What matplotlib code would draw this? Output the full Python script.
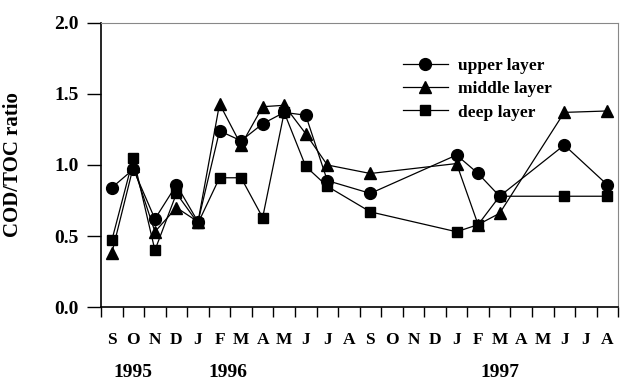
import numpy as np
import matplotlib
matplotlib.use('Agg')
import matplotlib.pyplot as plt

# month index: 0 = Sep 1995 ... 23 = Aug 1997
months = ['S', 'O', 'N', 'D', 'J', 'F', 'M', 'A', 'M', 'J', 'J', 'A',
          'S', 'O', 'N', 'D', 'J', 'F', 'M', 'A', 'M', 'J', 'J', 'A']
sample_month = [0, 1, 2, 3, 4, 5, 6, 7, 8, 9, 10, 12, 16, 17, 18, 21, 23]

upper = [0.84, 0.97, 0.62, 0.86, 0.60, 1.24, 1.17, 1.29, 1.37, 1.35, 0.89,
         0.80, 1.07, 0.94, 0.78, 1.14, 0.86]
middle = [0.38, 0.99, 0.53, 0.70, 0.60, 1.43, 1.14, 1.41, 1.42, 1.22, 1.00,
          0.94, 1.01, 0.58, 0.66, 1.37, 1.38]
deep = [0.47, 1.05, 0.40, 0.80, 0.59, 0.91, 0.91, 0.63, 1.37, 0.99, 0.85,
        0.67, 0.53, 0.58, 0.78, 0.78, 0.78]

years = ['1995', '1996', '1997']
year_pos = [1.5, 5.9, 18.5]

plt.rcParams['font.family'] = ['Liberation Serif', 'DejaVu Serif']
plt.rcParams['font.weight'] = 'bold'

fig = plt.figure(figsize=(6.2, 3.81), dpi=100)
ax = fig.add_axes([0.163, 0.194, 0.834, 0.746])

x = np.array(sample_month) + 0.5
ax.plot(x, upper, marker='o', markersize=8.5, color='black', linewidth=0.9,
        label='upper layer')
ax.plot(x, middle, marker='^', markersize=8.5, color='black', linewidth=0.9,
        label='middle layer')
ax.plot(x, deep, marker='s', markersize=7.5, color='black', linewidth=0.9,
        label='deep layer')

ax.set_xlim(0, 24)
ax.set_ylim(0, 2.0)
ax.set_yticks([0.0, 0.5, 1.0, 1.5, 2.0])
ax.set_yticklabels(['0.0', '0.5', '1.0', '1.5', '2.0'], fontsize=14,
                   fontweight='bold')
ax.set_xticks(np.arange(0, 25))
ax.set_xticklabels([])
ax.tick_params(axis='x', direction='out', length=7, width=1)
ax.tick_params(axis='y', direction='out', length=10, width=1, pad=6)

for i, m in enumerate(months):
    ax.text(i + 0.5, -0.232, m, ha='center', va='center', fontsize=12.5,
            fontweight='bold', clip_on=False)
for yr, p in zip(years, year_pos):
    ax.text(p, -0.458, yr, ha='center', va='center', fontsize=14,
            fontweight='bold', clip_on=False)

ax.set_ylabel('COD/TOC ratio', fontsize=15, fontweight='bold')
ax.yaxis.set_label_coords(-0.151, 0.5)

for s in ['top', 'right']:
    ax.spines[s].set_color('#888888')
for s in ['left', 'bottom']:
    ax.spines[s].set_linewidth(1.2)

ax.legend(loc='upper left', bbox_to_anchor=(0.57, 0.9), frameon=False,
          handlelength=2.6, handletextpad=0.6, labelspacing=0.4,
          borderaxespad=0, prop={'weight': 'bold', 'size': 12.5})

fig.savefig('out.png', dpi=100)
